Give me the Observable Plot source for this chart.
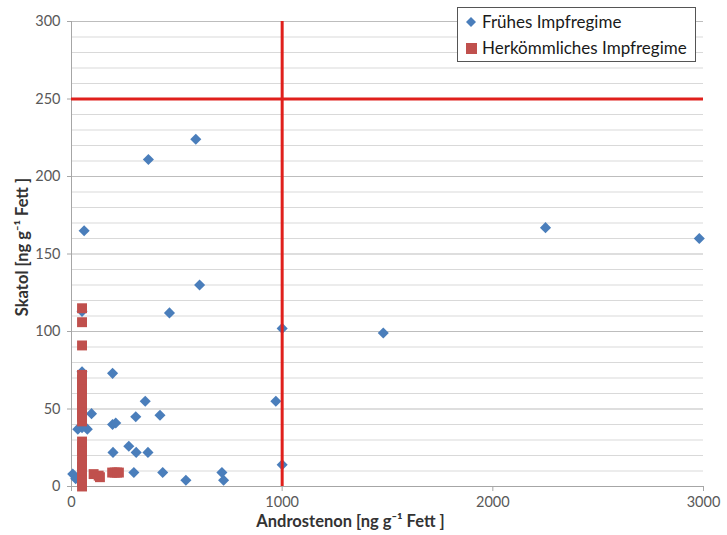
<!DOCTYPE html>
<html>
<head>
<meta charset="utf-8">
<script src="https://cdn.jsdelivr.net/npm/d3@7"></script>
<script src="https://cdn.jsdelivr.net/npm/@observablehq/plot@0.6"></script>
<style>
  html, body { margin: 0; padding: 0; background: #fff; }
  #wrap { position: relative; width: 727px; height: 535px; font-family: Lato, "Open Sans", sans-serif; }
  #legend { position: absolute; left: 457px; top: 7px; width: 237px; height: 53px; background: #fff; border: 1px solid #555; font-size: 17px; color: #1a1a1a; }
  #legend .item { position: absolute; left: 6px; display: flex; align-items: center; white-space: nowrap; }
</style>
</head>
<body>
<div id="wrap"></div>
<script>
// Series: Frühes Impfregime (blue diamonds)
const fruehX = [590, 365, 60, 2250, 2980, 608, 465, 1000, 1480, 970, 1000, 50, 195, 350, 420, 305, 95, 195, 210, 30, 75, 50, 272, 197, 307, 363, 296, 433, 714, 722, 543, 6, 20, 50];
const fruehY = [224, 211, 165, 167, 160, 130, 112, 102, 99, 55, 14, 74, 73, 55, 46, 45, 47, 40, 41, 37, 37, 38, 26, 22, 22, 22, 9, 9, 9, 4, 4, 8, 5, 113];
// Series: Herkömmliches Impfregime (red squares)
const herkX = [50, 50, 50, 50, 50, 50, 50, 50, 50, 50, 50, 50, 50, 50, 50, 50, 50, 50, 50, 50, 50, 50, 50, 50, 105, 129, 135, 193, 205, 216, 225];
const herkY = [0, 3, 6, 10, 13, 16, 20, 23, 26, 29, 42, 45, 48, 51, 54, 57, 60, 63, 66, 69, 72, 91, 106, 115, 8, 7, 6, 9, 9, 9, 9];
// Threshold lines
const thresholdX = [1000];
const thresholdY = [250];
// Axis ticks
const xTicks = [0, 1000, 2000, 3000];
const yTicks = [0, 50, 100, 150, 200, 250, 300];
const gridMinor = d3.range(10, 301, 10).filter(v => v % 50 !== 0);
const gridMajor = [50, 100, 150, 200, 250, 300];

const labels = ["Frühes Impfregime", "Herkömmliches Impfregime"];
const colors = ["#4a7ebb", "#c0504d"];

const frueh = fruehX.map((x, i) => ({x, y: fruehY[i]}));
const herk = herkX.map((x, i) => ({x, y: herkY[i]}));

const chart = Plot.plot({
  width: 727,
  height: 535,
  marginLeft: 71,
  marginRight: 24,
  marginTop: 21,
  marginBottom: 49,
  style: {fontFamily: "Lato, 'Open Sans', sans-serif", fontSize: "14px", color: "#595959", background: "#fff"},
  x: {domain: [0, 3000], label: null},
  y: {domain: [0, 300], label: null},
  marks: [
    Plot.ruleY(gridMinor, {stroke: "#d9d9d9", strokeWidth: 1}),
    Plot.ruleY(gridMajor, {stroke: "#bdbdbd", strokeWidth: 1}),
    Plot.ruleX([0], {stroke: "#a6a6a6"}),
    Plot.ruleY([0], {stroke: "#a6a6a6"}),
    Plot.axisX({ticks: xTicks, tickFormat: d => String(d), tickSize: 5, tickPadding: 5, stroke: "#a6a6a6", fill: "#595959", fontSize: 14.5, label: null}),
    Plot.axisY({ticks: yTicks, tickFormat: d => String(d), tickSize: 4, tickPadding: 7, stroke: "#a6a6a6", fill: "#595959", fontSize: 14.5, label: null}),
    Plot.dot(frueh, {x: "x", y: "y", symbol: "diamond2", r: 5, fill: colors[0], stroke: null}),
    Plot.dot(herk, {x: "x", y: "y", symbol: "square", r: 5.6, fill: colors[1], stroke: null}),
    Plot.ruleX(thresholdX, {y1: 0, y2: 300, stroke: "#e0201c", strokeWidth: 3}),
    Plot.ruleY(thresholdY, {x1: 0, x2: 3000, stroke: "#e0201c", strokeWidth: 3}),
    Plot.text(["Androstenon [ng g\u207B\u00B9 Fett ]"], {frameAnchor: "bottom", textAnchor: "middle", dx: -37, dy: 40, fontWeight: "bold", fontSize: 16.5, fill: "#333"}),
    Plot.text(["Skatol [ng g\u207B\u00B9 Fett ]"], {frameAnchor: "left", textAnchor: "middle", dx: -49, dy: -7, rotate: -90, fontWeight: "bold", fontSize: 16.5, fill: "#333"})
  ]
});

const wrap = document.getElementById("wrap");
wrap.appendChild(chart);

const legend = document.createElement("div");
legend.id = "legend";
legend.innerHTML = `
  <div class="item" style="top:3px"><svg width="14" height="14" style="margin-right:4px"><path d="M7,2L12,7L7,12L2,7Z" fill="${colors[0]}"/></svg><span>${labels[0]}</span></div>
  <div class="item" style="top:29px"><svg width="14" height="14" style="margin-right:4px"><rect x="2" y="2" width="11" height="11" fill="${colors[1]}"/></svg><span>${labels[1]}</span></div>`;
wrap.appendChild(legend);
</script>
</body>
</html>
